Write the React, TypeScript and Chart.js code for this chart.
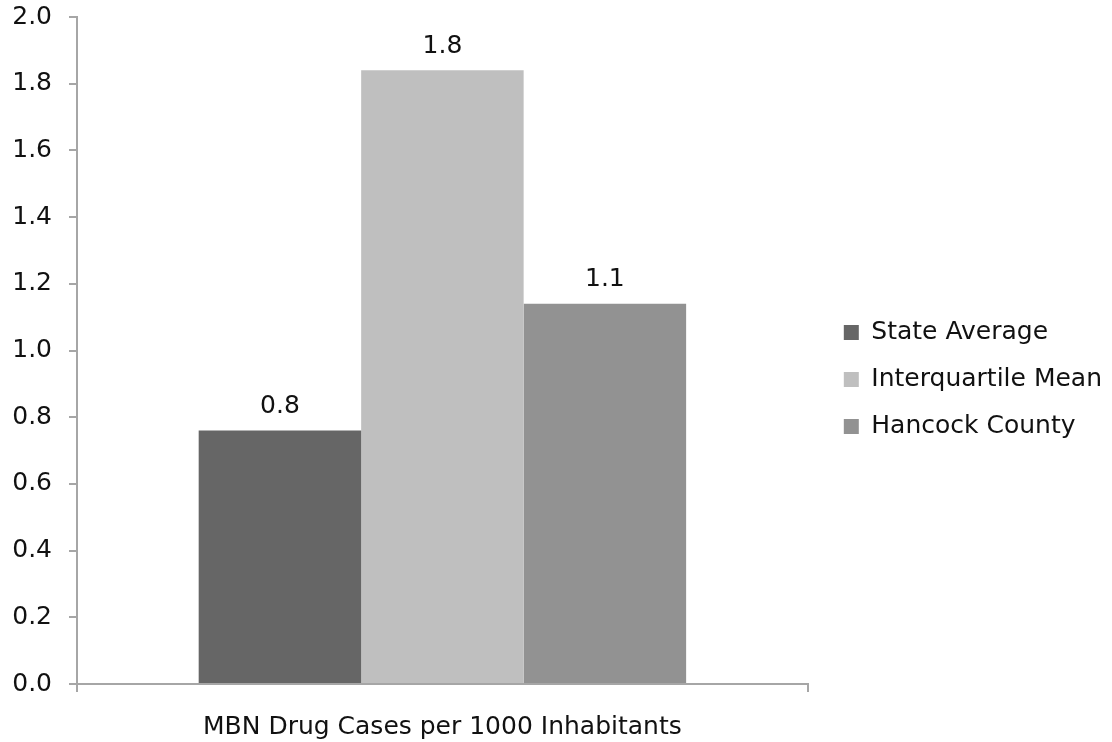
import React, { useEffect, useRef } from "react";
import { Chart, registerables } from "chart.js";

Chart.register(...registerables);

// ---- data ----
const categories = ["MBN Drug Cases per 1000 Inhabitants"];
const seriesNames = ["State Average", "Interquartile Mean", "Hancock County"];
const stateAverage = [0.76];
const interquartileMean = [1.84];
const hancockCounty = [1.14];
const seriesColors = ["#666666", "#bfbfbf", "#929292"];
const yMin = 0;
const yMax = 2.0;
const yStep = 0.2;

const FONT = "'DejaVu Sans', sans-serif";
const FONT_SIZE = 25;
const AXIS_COLOR = "#a6a6a6";

const valueLabels = {
  id: "valueLabels",
  afterDatasetsDraw(chart: any) {
    const ctx = chart.ctx;
    ctx.save();
    ctx.font = `${FONT_SIZE}px ${FONT}`;
    ctx.fillStyle = "#111111";
    ctx.textAlign = "center";
    ctx.textBaseline = "middle";
    chart.data.datasets.forEach((ds: any, i: number) => {
      const meta = chart.getDatasetMeta(i);
      meta.data.forEach((bar: any, j: number) => {
        const v = ds.data[j];
        ctx.fillText(Number(v).toFixed(1), bar.x, bar.y - 24);
      });
    });
    ctx.restore();
  },
};

export default function App() {
  const ref = useRef<HTMLCanvasElement | null>(null);

  useEffect(() => {
    if (!ref.current) return;
    const series = [stateAverage, interquartileMean, hancockCounty];
    const chart = new Chart(ref.current, {
      type: "bar",
      data: {
        labels: categories,
        datasets: series.map((d, i) => ({
          label: seriesNames[i],
          data: d,
          backgroundColor: seriesColors[i],
          borderWidth: 0,
          categoryPercentage: 0.667,
          barPercentage: 1.0,
          yAxisID: "y",
        })),
      },
      options: {
        responsive: false,
        animation: false,
        layout: { padding: { top: 17, bottom: 0, left: 0, right: 0 } },
        scales: {
          x: {
            offset: true,
            afterFit: (s: any) => {
              s.height = 58;
            },
            grid: {
              offset: true,
              drawOnChartArea: false,
              drawTicks: true,
              tickLength: 8,
              color: AXIS_COLOR,
              lineWidth: 2,
            },
            border: { color: AXIS_COLOR, width: 2 },
            ticks: {
              color: "#111111",
              padding: 23,
              font: { family: FONT, size: FONT_SIZE, lineHeight: 1 },
            },
          },
          y: {
            min: yMin,
            max: yMax,
            afterFit: (s: any) => {
              s.width = 77;
              s.paddingTop = 0;
              s.paddingBottom = 0;
            },
            grid: {
              drawOnChartArea: false,
              drawTicks: true,
              tickLength: 8,
              color: AXIS_COLOR,
              lineWidth: 2,
            },
            border: { color: AXIS_COLOR, width: 2 },
            ticks: {
              stepSize: yStep,
              color: "#111111",
              padding: 17,
              font: { family: FONT, size: FONT_SIZE },
              callback: (v: any) => Number(v).toFixed(1),
            },
          },
          gap: {
            type: "linear",
            position: "right",
            display: true,
            afterFit: (s: any) => {
              s.width = 14;
              s.paddingTop = 0;
              s.paddingBottom = 0;
            },
            grid: { display: false, drawTicks: false },
            border: { display: false },
            ticks: { display: false },
          },
        },
        plugins: {
          legend: {
            position: "right",
            align: "center",
            maxWidth: 420,
            labels: {
              boxWidth: 15,
              boxHeight: 15,
              padding: 22,
              color: "#111111",
              font: { family: FONT, size: FONT_SIZE },
            },
          },
          tooltip: { enabled: false },
        },
      } as any,
      plugins: [valueLabels],
    });
    return () => chart.destroy();
  }, []);

  return (
    <div style={{ position: "absolute", left: 0, top: 0, width: 1112, height: 742, background: "#ffffff" }}>
      <canvas ref={ref} width={1112} height={742} style={{ width: 1112, height: 742 }} />
    </div>
  );
}
